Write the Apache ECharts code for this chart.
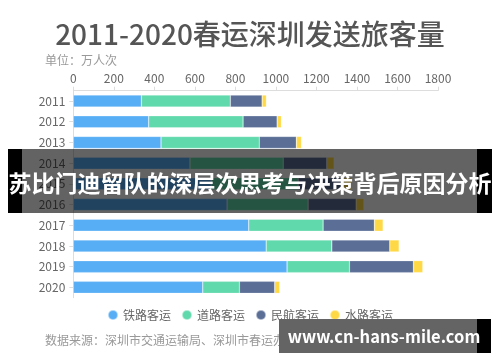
<!DOCTYPE html>
<html>
<head>
<meta charset="utf-8">
<script src="https://cdn.jsdelivr.net/npm/echarts@6/dist/echarts.min.js"></script>
<style>html,body{margin:0;padding:0;background:#fff}#c{width:500px;height:362px}</style>
</head>
<body>
<div id="c"></div>
<script>
var years = ['2011','2012','2013','2014','2015','2016','2017','2018','2019','2020'];
var rail  = [336, 372, 433, 576, 680, 759, 866, 952, 1055, 639];
var road  = [439, 466, 485, 460, 430, 400, 367, 324, 308, 181];
var air   = [157, 168, 183, 215, 225, 237, 253, 286, 316, 174];
var water = [21, 21, 25, 36, 37, 38, 43, 46, 46, 25];
var seriesNames = ['铁路客运', '道路客运', '民航客运', '水路客运'];
var xTicks = [0, 1800, 200];

var FONT = '"Noto Sans CJK SC", "Noto Sans", sans-serif';
var colors = ['#58AEF5', '#60D9AC', '#5A6E96', '#FFD945'];
var chart = echarts.init(document.getElementById('c'));
function mk(name, data, i) {
  return {
    name: name, type: 'bar', stack: 'total', data: data,
    barWidth: 12,
    itemStyle: { color: colors[i], borderColor: 'rgba(255,255,255,0.5)', borderWidth: 0.5 }
  };
}
chart.setOption({
  animation: false,
  textStyle: { fontFamily: FONT },
  title: [
    { text: '2011-2020春运深圳发送旅客量', left: 'center', top: 15,
      textStyle: { fontSize: 28, fontWeight: 500, color: '#555', fontFamily: FONT } },
    { text: '单位：万人次', left: 40, top: 49,
      textStyle: { fontSize: 12, fontWeight: 'normal', color: '#999', fontFamily: FONT } },
    { text: '数据来源：深圳市交通运输局、深圳市春运办', left: 40, top: 329,
      textStyle: { fontSize: 12, fontWeight: 'normal', color: '#999', fontFamily: FONT } }
  ],
  legend: {
    data: seriesNames, top: 304, left: 'center', icon: 'circle',
    itemWidth: 10, itemHeight: 10, itemGap: 10,
    textStyle: { fontSize: 12, color: '#666', fontFamily: FONT }
  },
  grid: { left: 73.3, right: 62, top: 90.7, bottom: 64.3, containLabel: false },
  xAxis: {
    type: 'value', position: 'top', min: xTicks[0], max: xTicks[1], interval: xTicks[2],
    axisLine: { show: true, lineStyle: { color: '#ddd' } },
    axisTick: { show: true, length: 4, lineStyle: { color: '#ddd' } },
    axisLabel: { color: '#666', fontSize: 12, margin: 6, fontFamily: FONT, formatter: function (v) { return String(v); } },
    splitLine: { show: false }
  },
  yAxis: {
    type: 'category', data: years, inverse: true,
    axisLine: { show: true, lineStyle: { color: '#ddd' } },
    axisTick: { show: true, length: 4, alignWithLabel: true, lineStyle: { color: '#ddd' } },
    axisLabel: { color: '#666', fontSize: 12, margin: 8, fontFamily: FONT }
  },
  series: [mk(seriesNames[0], rail, 0), mk(seriesNames[1], road, 1), mk(seriesNames[2], air, 2), mk(seriesNames[3], water, 3)],
  graphic: [
    { type: 'rect', z: 100, shape: { x: 8, y: 149, width: 14, height: 64 }, style: { fill: '#000' } },
    { type: 'rect', z: 100, shape: { x: 22, y: 149, width: 455, height: 64 }, style: { fill: 'rgba(0,0,0,0.61)' } },
    { type: 'rect', z: 100, shape: { x: 477, y: 149, width: 15, height: 64 }, style: { fill: '#000' } },
    { type: 'text', z: 101, x: 250, y: 183, style: { text: '苏比门迪留队的深层次思考与决策背后原因分析', fill: '#fff', font: 'bold 23px ' + FONT, textAlign: 'center', textVerticalAlign: 'middle' } },
    { type: 'rect', z: 100, shape: { x: 279, y: 319, width: 198, height: 34 }, style: { fill: '#646464' } },
    { type: 'rect', z: 100, shape: { x: 477, y: 319, width: 14, height: 34 }, style: { fill: '#000' } },
    { type: 'text', z: 101, x: 384, y: 336.5, style: { text: 'www.cn-hans-mile.com', fill: '#fff', font: 'bold 16.5px ' + FONT, textAlign: 'center', textVerticalAlign: 'middle' } }
  ]
});
</script>
</body>
</html>
